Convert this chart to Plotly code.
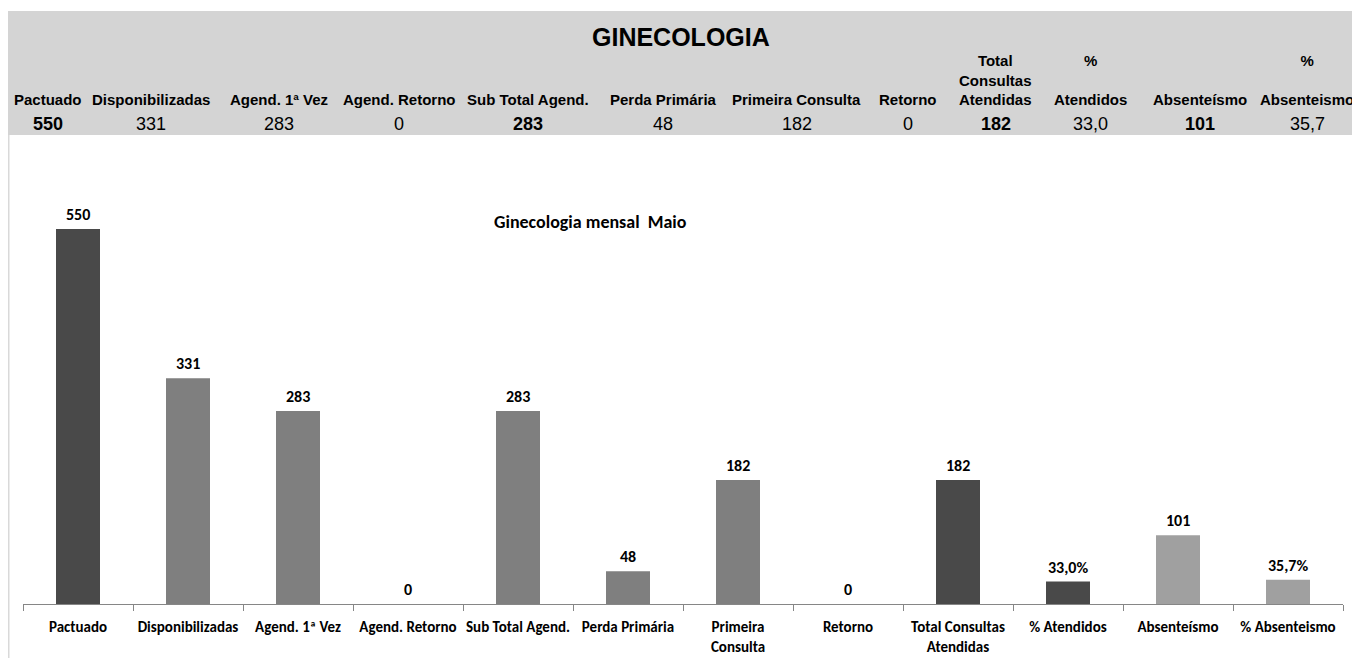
import plotly.graph_objects as go

# chart data
categories = ["Pactuado", "Disponibilizadas", "Agend. 1ª Vez", "Agend. Retorno",
              "Sub Total Agend.", "Perda Primária", "Primeira<br>Consulta", "Retorno",
              "Total Consultas<br>Atendidas", "% Atendidos", "Absenteísmo", "% Absenteismo"]
values = [550, 331, 283, 0, 283, 48, 182, 0, 182, 33.0, 101, 35.7]
is_percent = [False] * 9 + [True, False, True]

# header table above the chart
header_title = "GINECOLOGIA"
header_labels = ["Pactuado", "Disponibilizadas", "Agend. 1ª Vez", "Agend. Retorno",
                 "Sub Total Agend.", "Perda Primária", "Primeira Consulta", "Retorno",
                 "Total<br>Consultas<br>Atendidas", "%<br> <br>Atendidos", "Absenteísmo",
                 "%<br> <br>Absenteismo"]
header_bold = [True, False, False, False, True, False, False, False, True, False, True, False]
chart_title = "Ginecologia mensal  Maio"

DARK, MID, LIGHT = "#494949", "#7f7f7f", "#a0a0a0"
bar_colors = [DARK, MID, MID, MID, MID, MID, MID, MID, DARK, DARK, LIGHT, LIGHT]

# the page body adds an 8px margin, so the figure is drawn 8px smaller
OFF = 8
W, H = 1360 - OFF, 658 - OFF
ML, MR, MT, MB = 15, 17, 187, 54
PW, PH = W - ML - MR, H - MT - MB


def px(x):
    # page pixel x -> paper coordinate
    return (x - OFF - ML) / PW


def py(y):
    # page pixel y -> paper coordinate
    return (H - MB - (y - OFF)) / PH


def fmt(v, pct, suffix=""):
    if pct:
        return f"{v:.1f}".replace(".", ",") + suffix
    return f"{v:.0f}"


HFONT = "Liberation Sans, Arial, sans-serif"
CFONT = "Carlito, Lato, sans-serif"

fig = go.Figure()
fig.add_trace(go.Bar(
    x=categories, y=values, marker=dict(color=bar_colors, line=dict(width=0)),
    width=0.4, hoverinfo="x+y",
))

# data labels above bars
for c, v, p in zip(categories, values, is_percent):
    fig.add_annotation(x=c, y=v, xref="x", yref="y", text=fmt(v, p, "%"),
                       showarrow=False, xanchor="center", yanchor="bottom", yshift=3,
                       font=dict(family=CFONT, size=16, color="#000", weight="bold"))

# header band
fig.add_shape(type="rect", xref="paper", yref="paper", x0=px(6), x1=px(1360),
              y0=py(135), y1=py(11), fillcolor="#d4d4d4", line=dict(width=0), layer="below")
fig.add_shape(type="line", xref="paper", yref="paper", x0=px(8.5), x1=px(8.5),
              y0=py(135), y1=py(658), line=dict(color="#d9d9d9", width=2))

fig.add_annotation(x=px(681), y=py(37), xref="paper", yref="paper", text=header_title,
                   showarrow=False, xanchor="center", yanchor="middle",
                   font=dict(family=HFONT, size=25, color="#000", weight="bold"))

col_x = [48, 151, 279, 399, 528, 663, 797, 908, 996, 1090, 1200, 1307]
for cx, lab, v, p, b in zip(col_x, header_labels, values, is_percent, header_bold):
    fig.add_annotation(x=px(cx), y=py(110), xref="paper", yref="paper", text=lab,
                       showarrow=False, xanchor="center", yanchor="bottom",
                       font=dict(family=HFONT, size=15, color="#000", weight="bold"))
    fig.add_annotation(x=px(cx), y=py(124), xref="paper", yref="paper", text=fmt(v, p),
                       showarrow=False, xanchor="center", yanchor="middle",
                       font=dict(family=HFONT, size=18, color="#000",
                                 weight="bold" if b else "normal"))

fig.add_annotation(x=px(590), y=py(222), xref="paper", yref="paper", text=chart_title,
                   showarrow=False, xanchor="center", yanchor="middle",
                   font=dict(family=CFONT, size=18, color="#000", weight="bold"))

fig.update_layout(
    width=W, height=H, margin=dict(l=ML, r=MR, t=MT, b=MB),
    paper_bgcolor="white", plot_bgcolor="white", showlegend=False,
    bargap=0.6,
)
fig.update_xaxes(
    showline=True, linecolor="#868686", linewidth=1, ticks="outside", ticklen=6,
    tickcolor="#868686", tickson="boundaries", showgrid=False, automargin=False,
    tickfont=dict(family=CFONT, size=15, color="#000", weight="bold"),
    tickangle=0, ticklabelstandoff=9, fixedrange=True,
)
fig.update_yaxes(range=[0, 600], visible=False, showgrid=False, fixedrange=True)

fig.write_html("out.html")
